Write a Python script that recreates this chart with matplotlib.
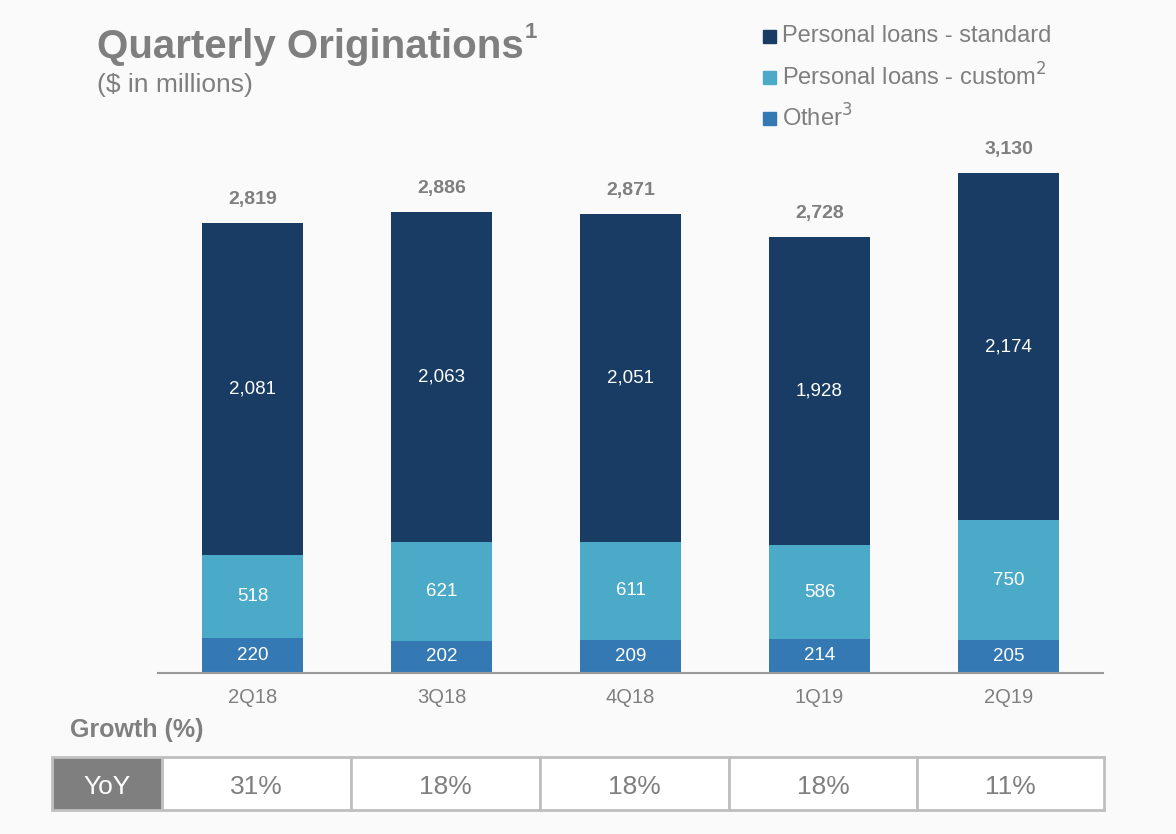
import numpy as np
import matplotlib.pyplot as plt

plt.rcParams['font.family'] = ['Liberation Sans', 'DejaVu Sans']

# data
quarters = ['2Q18', '3Q18', '4Q18', '1Q19', '2Q19']
other = [220, 202, 209, 214, 205]
custom = [518, 621, 611, 586, 750]
standard = [2081, 2063, 2051, 1928, 2174]
totals = [2819, 2886, 2871, 2728, 3130]
yoy = ['31%', '18%', '18%', '18%', '11%']

c_std = '#183C63'
c_cus = '#4BAAC8'
c_oth = '#3479B4'
grey = '#7F7F7F'
bg = '#FAFAFA'

fig = plt.figure(figsize=(11.76, 8.34), dpi=100, facecolor=bg)
ax = fig.add_axes([158/1176, 1 - 673/834, 945/1176, 543/834])
ax.set_facecolor(bg)

x = np.arange(len(quarters))
w = 0.535
bot2 = np.array(other) + np.array(custom)
ax.bar(x, other, w, color=c_oth)
ax.bar(x, custom, w, bottom=other, color=c_cus)
ax.bar(x, standard, w, bottom=bot2, color=c_std)

for i in range(len(x)):
    ax.text(x[i], other[i] / 2, f'{other[i]:,}', ha='center', va='center',
            color='white', fontsize=13.5)
    ax.text(x[i], other[i] + custom[i] / 2, f'{custom[i]:,}', ha='center',
            va='center', color='white', fontsize=13.5)
    ax.text(x[i], bot2[i] + standard[i] / 2, f'{standard[i]:,}', ha='center',
            va='center', color='white', fontsize=13.5)
    ax.annotate(f'{totals[i]:,}', (x[i], totals[i]), xytext=(0, 11),
                textcoords='offset points', ha='center', va='bottom',
                color=grey, fontsize=14, fontweight='bold')

ax.set_xlim(-0.5, 4.5)
ax.set_ylim(0, 3400)
ax.set_yticks([])
ax.set_xticks(x)
ax.set_xticklabels(quarters, color=grey, fontsize=14.5)
ax.tick_params(axis='x', length=0, pad=11)
for s in ['top', 'right', 'left']:
    ax.spines[s].set_visible(False)
ax.spines['bottom'].set_color('#999999')
ax.spines['bottom'].set_linewidth(1.5)

# title with small superscript
t = fig.text(97/1176, 1 - 58/834, 'Quarterly Originations', fontsize=29,
             fontweight='bold', color=grey, va='baseline')
fig.canvas.draw()
bb = t.get_window_extent()
fig.text(bb.x1 / 1176 + 1/1176, 1 - 38/834, '1', fontsize=16,
         fontweight='bold', color=grey, va='baseline')
fig.text(97/1176, 1 - 85/834, '($ in millions)', fontsize=19, color=grey,
         va='center')

# legend
leg = [('Personal loans - standard', c_std),
       ('Personal loans - custom$^2$', c_cus),
       ('Other$^3$', c_oth)]
for k, (lab, col) in enumerate(leg):
    yy = 1 - (36 + 41 * k) / 834
    fig.patches.append(plt.Rectangle((763/1176, yy - 7/834), 13/1176, 13/834,
                                     transform=fig.transFigure, color=col))
    fig.text(782/1176, yy, lab, fontsize=17, color=grey, va='center')

# growth table
fig.text(70/1176, 1 - 730/834, 'Growth (%)', fontsize=18, fontweight='bold',
         color=grey, va='center')
tab_top = 1 - 757/834
tab_h = 53/834
edges = [52, 162, 351, 540, 729, 917, 1104]
for j in range(len(edges) - 1):
    x0 = edges[j] / 1176
    ww = (edges[j + 1] - edges[j]) / 1176
    fc = grey if j == 0 else 'white'
    fig.patches.append(plt.Rectangle((x0, tab_top - tab_h), ww, tab_h,
                                     transform=fig.transFigure, facecolor=fc,
                                     edgecolor='#BFBFBF', linewidth=2))
    txt = 'YoY' if j == 0 else yoy[j - 1]
    fig.text(x0 + ww / 2, 1 - 787/834, txt, fontsize=19,
             color='white' if j == 0 else grey, ha='center', va='center')

fig.savefig('out.png', dpi=100, facecolor=bg)
